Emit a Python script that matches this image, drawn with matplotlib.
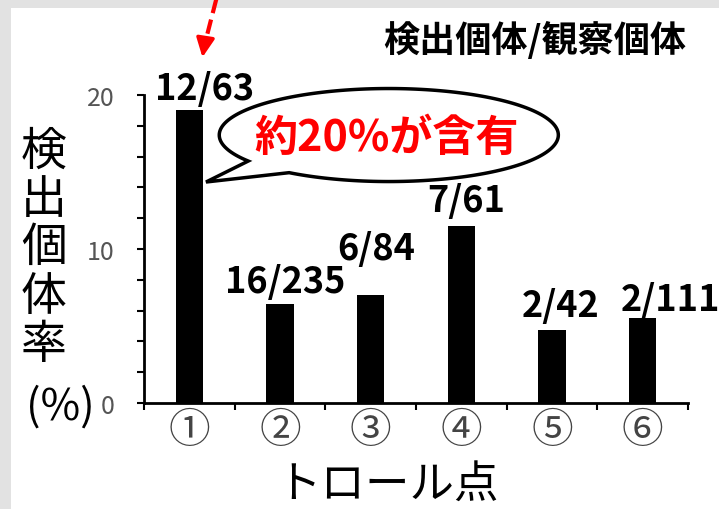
import numpy as np
import matplotlib
matplotlib.use("Agg")
import matplotlib.pyplot as plt
from matplotlib.patches import Polygon

plt.rcParams['font.family'] = ['Noto Sans CJK JP', 'DejaVu Sans']

# detection rate per trawl station (%)
stations = ["①", "②", "③", "④", "⑤", "⑥"]
rates = [19.0, 6.4, 7.0, 11.5, 4.75, 5.5]
counts = ["12/63", "16/235", "6/84", "7/61", "2/42", "2/111"]

# label placement relative to each bar top (x offset, y offset)
label_offsets = [(0.17, 1.45), (0.055, 1.46), (0.06, 3.06),
                 (0.05, 1.68), (0.09, 1.6), (0.31, 1.25)]

fig = plt.figure(figsize=(7.19, 5.10), dpi=100)
fig.patch.set_facecolor("#e2e2e2")
# white panel
fig.patches.append(plt.Rectangle((11 / 719, 0), 1, 1 - 9 / 510, transform=fig.transFigure,
                                 facecolor="white", edgecolor="none", zorder=-1))

ax = fig.add_axes([144 / 719, 1 - 404 / 510, 544 / 719, 308 / 510])
ax.set_facecolor("none")

x = np.arange(len(stations)) + 0.5
ax.bar(x, rates, width=0.3, color="black", zorder=2)

for xi, r, lab, (dx, dy) in zip(x, rates, counts, label_offsets):
    ax.text(xi + dx, r + dy, lab, ha="center", va="center",
            fontsize=26, fontweight="bold", color="black", clip_on=False)

ax.set_xlim(0, 6)
ax.set_ylim(0, 20)
ax.set_yticks([0, 10, 20])
ax.set_yticks(np.arange(0, 21, 2), minor=True)
ax.set_xticks(np.arange(0, 7))
ax.set_xticklabels([])
ax.set_xticks(x, minor=True)
ax.set_xticklabels(stations, minor=True)
ax.tick_params(axis="y", which="both", direction="out", length=5, width=1.5,
               labelsize=18, labelcolor="#555555", pad=16)
ax.tick_params(axis="x", which="major", direction="out", length=5, width=1.5)
ax.tick_params(axis="x", which="minor", length=0, labelsize=30,
               labelcolor="#444444", pad=5)
for side in ("top", "right"):
    ax.spines[side].set_visible(False)
for side in ("left", "bottom"):
    ax.spines[side].set_linewidth(2)

fig.text(388 / 719, 1 - 485 / 510, "トロール点", ha="center", va="center", fontsize=32)

# vertical y label
fig.text(44 / 719, 1 - 248 / 510, "\n".join("検出個体率"), ha="center", va="center",
         fontsize=33, linespacing=1.0)
fig.text(60 / 719, 1 - 408 / 510, "(%)", ha="center", va="center", fontsize=31)

fig.text(535 / 719, 1 - 41 / 510, "検出個体/観察個体", ha="center", va="center",
         fontsize=26, fontweight="bold")

# speech bubble pointing at station 1
cx, cy, a, b = 2.70, 17.40, 1.87, 3.02
tip = (0.684, 14.35)
th = np.radians(np.linspace(234, 574, 200))
pts = [tip] + list(zip(cx + a * np.cos(th), cy + b * np.sin(th))) + [tip]
bubble = Polygon(pts, closed=True, facecolor="white", edgecolor="black",
                 lw=2.5, clip_on=False, zorder=3)
ax.add_patch(bubble)
ax.text(2.68, 17.27, "約20%が含有", ha="center", va="center", fontsize=31,
        fontweight="bold", color="#ff0000", zorder=4, clip_on=False)

# dashed red arrow from above
ax.plot([0.805, 0.67], [26.4, 23.3], color="#ff0000", lw=3, ls=(0, (3.5, 1.6)),
        clip_on=False, zorder=4)
ax.annotate("", xy=(0.64, 22.27), xytext=(0.675, 23.6),
            arrowprops=dict(arrowstyle="-|>,head_length=1.15,head_width=0.55",
                            color="#ff0000", lw=2.5),
            annotation_clip=False)

fig.savefig("out.png", dpi=100)
